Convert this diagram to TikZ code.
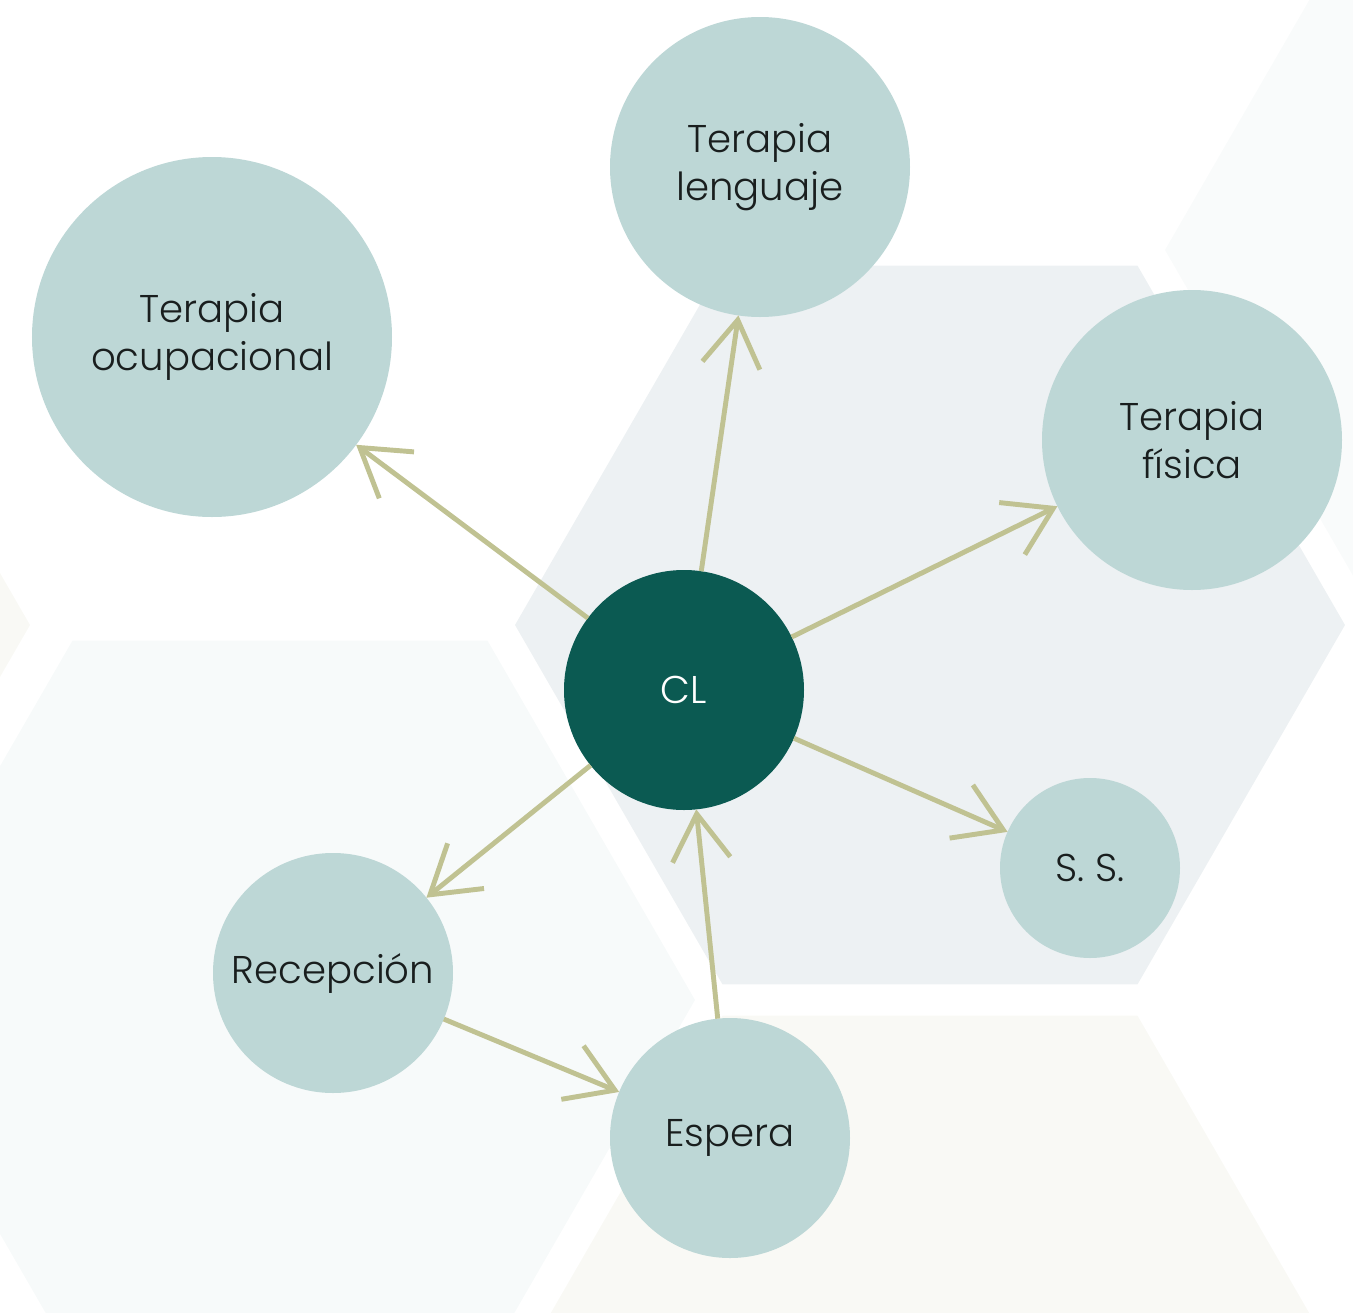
\documentclass[tikz,border=0pt]{standalone}
\usepackage{fontspec}
\setmainfont{Poppins Light}
\usepackage{tikz}
\usetikzlibrary{arrows.meta,positioning}
\definecolor{hexgray}{RGB}{237,241,243}
\definecolor{hexpale}{RGB}{247,250,250}
\definecolor{hexfaint}{RGB}{249,251,251}
\definecolor{hexcream}{RGB}{249,249,245}
\definecolor{areablue}{RGB}{189,215,214}
\definecolor{cldark}{RGB}{11,90,82}
\definecolor{arrolive}{RGB}{192,194,146}
\definecolor{labelgray}{RGB}{25,30,30}

% flat-topped hexagon: colour, centre, radius
\newcommand{\hexfill}[3]{\fill[#1] (#2) +(0:#3) -- +(60:#3) -- +(120:#3) -- +(180:#3) -- +(240:#3) -- +(300:#3) -- cycle;}

\begin{document}
\begin{tikzpicture}[
  area/.style={circle, fill=areablue, inner sep=0pt, outer sep=0pt, align=center, text=labelgray, font=\fontsize{11}{13.5}\selectfont},
  arr/.style={-{Straight Barb[length=4.6mm, width=5.8mm]}, line width=1.4pt, draw=arrolive},
]
  \useasboundingbox (0,0) rectangle (13.53,-13.13);

  % background hexagons
  \begin{scope}
    \clip (0,0) rectangle (13.53,-13.13);
    \hexfill{hexgray}{9.30,-6.25}{4.15}
    \hexfill{hexpale}{2.80,-10.00}{4.15}
    \hexfill{hexcream}{9.30,-13.75}{4.15}
    \hexfill{hexfaint}{15.80,-2.50}{4.15}
    \hexfill{hexcream}{-3.85,-6.25}{4.15}
  \end{scope}

  % areas
  \node[area, minimum size=3.6cm] (ocup) at (2.12,-3.37) {Terapia\\ocupacional};
  \node[area, minimum size=3.0cm] (leng) at (7.60,-1.67) {Terapia\\lenguaje};
  \node[area, minimum size=3.0cm] (fisica) at (11.92,-4.40) {Terapia\\física};
  \node[area, minimum size=2.4cm, fill=cldark, text=white] (cl) at (6.84,-6.90) {CL};
  \node[area, minimum size=1.8cm] (ss) at (10.90,-8.68) {S. S.};
  \node[area, minimum size=2.4cm] (recep) at (3.33,-9.73) {Recepción};
  \node[area, minimum size=2.4cm] (espera) at (7.30,-11.38) {Espera};

  % flows
  \draw[arr] (cl) -- (ocup);
  \draw[arr] (cl) -- (leng);
  \draw[arr] (cl) -- (fisica);
  \draw[arr] (cl) -- (ss);
  \draw[arr] (cl) -- (recep);
  \draw[arr] (recep) -- (espera);
  \draw[arr] (espera) -- (cl);
\end{tikzpicture}
\end{document}
